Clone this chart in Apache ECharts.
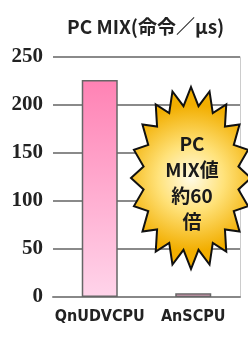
<!DOCTYPE html>
<html lang="ja">
<head>
<meta charset="UTF-8">
<title>PC MIX</title>
<script src="https://cdn.jsdelivr.net/npm/echarts@6/dist/echarts.min.js"></script>
<style>
  * { margin: 0; padding: 0; }
  html, body { width: 248px; height: 338px; background: #fff; }
  #chart { width: 248px; height: 338px; }
</style>
</head>
<body>
<div id="chart"></div>
<script>
// data
const cpus = ['QnUDVCPU', 'AnSCPU'];
const pcMix = [226, 4];
const yTicks = [0, 50, 100, 150, 200, 250];
const badgeLines = ['PC', 'MIX値', '約60', '倍'];

const chart = echarts.init(document.getElementById('chart'));

// starburst badge (decoration)
function starPoints(cx, cy, rx, ry, n, k) {
  const pts = [];
  for (let i = 0; i < n * 2; i++) {
    const a = Math.PI * i / n - Math.PI / 2;
    const f = i % 2 === 0 ? 1 : k;
    pts.push([cx + Math.cos(a) * rx * f, cy + Math.sin(a) * ry * f]);
  }
  return pts;
}

const labelFont = 'Liberation Sans Narrow';

chart.setOption({
  animation: false,
  title: {
    text: 'PC MIX(命令／μs)',
    left: 62,
    top: 12,
    textStyle: { fontFamily: 'Noto Sans CJK JP', fontWeight: 'bold', fontSize: 19, color: '#222' }
  },
  grid: { left: 53, right: 8, top: 57, bottom: 41 },
  xAxis: {
    type: 'category',
    data: cpus,
    axisTick: { show: false },
    axisLine: { lineStyle: { color: '#888', width: 2 } },
    axisLabel: { interval: 0, margin: 12, color: '#222', fontFamily: 'DejaVu Sans Condensed', fontWeight: 'bold', fontSize: 16 }
  },
  yAxis: [{
    type: 'value',
    min: 0, max: 250, interval: 50,
    axisLabel: {
      margin: 10, color: '#222', fontFamily: labelFont, fontWeight: 'bold', fontSize: 21,
      formatter: v => yTicks.includes(v) ? String(v) : ''
    },
    splitLine: { lineStyle: { color: '#8a8a8a', width: 2 } }
  }, {
    type: 'value',
    position: 'right',
    min: 0, max: 250, interval: 50,
    axisLine: { show: true, lineStyle: { color: '#ccc', width: 1 } },
    axisLabel: { show: false },
    splitLine: { show: false }
  }],
  series: [{
    type: 'bar',
    data: pcMix,
    barWidth: 36,
    itemStyle: {
      borderColor: '#666',
      borderWidth: 1.5,
      color: new echarts.graphic.LinearGradient(0, 0, 0, 1, [
        { offset: 0, color: '#ff82b4' },
        { offset: 1, color: '#ffd4ea' }
      ])
    }
  }],
  graphic: [{
    type: 'polygon',
    z: 100,
    shape: { points: starPoints(191, 178, 60, 91, 20, 0.8) },
    style: {
      stroke: '#111',
      lineWidth: 2,
      fill: new echarts.graphic.RadialGradient(0.5, 0.5, 0.6, [
        { offset: 0, color: '#fffbe6' },
        { offset: 0.45, color: '#ffe27a' },
        { offset: 1, color: '#f2ae00' }
      ])
    }
  }, {
    type: 'text',
    z: 101,
    x: 192,
    y: 131,
    style: {
      text: badgeLines.join('\n'),
      align: 'center',
      lineHeight: 26,
      font: 'bold 19px "Noto Sans CJK JP"',
      fill: '#1a1a1a'
    }
  }]
});
</script>
</body>
</html>
